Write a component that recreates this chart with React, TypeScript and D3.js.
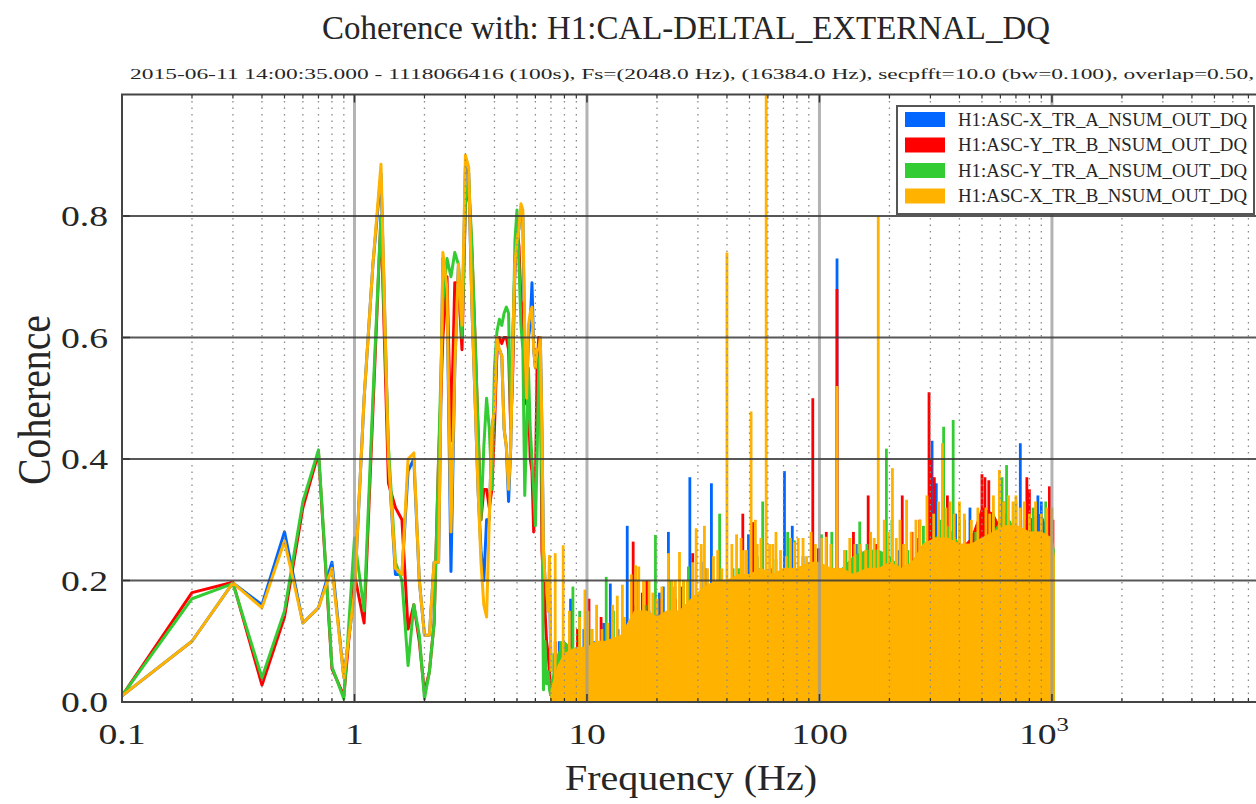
import React from 'react';
import * as d3 from 'd3';

// ---------------- DATA ----------------
const seriesNames = [
  'H1:ASC-X_TR_A_NSUM_OUT_DQ',
  'H1:ASC-Y_TR_B_NSUM_OUT_DQ',
  'H1:ASC-Y_TR_A_NSUM_OUT_DQ',
  'H1:ASC-X_TR_B_NSUM_OUT_DQ',
];
const seriesColors = ['#0066ff', '#ff0000', '#33cc33', '#ffb200'];

// low-frequency bins (bw = 0.1 Hz)
const lowFreqs = [
  0.1, 0.2, 0.3, 0.4, 0.5, 0.6, 0.7, 0.8, 0.9, 1.0,
  1.1, 1.2, 1.3, 1.4, 1.5, 1.6, 1.7, 1.8, 1.9, 2.0,
  2.1, 2.2, 2.3, 2.4, 2.5, 2.6, 2.7, 2.8, 2.9, 3.0,
  3.1, 3.2, 3.3, 3.4, 3.5, 3.6, 3.7, 3.8, 3.9, 4.0,
  4.1, 4.2, 4.3, 4.4, 4.5, 4.6, 4.7, 4.8, 4.9, 5.0,
  5.1, 5.2, 5.3, 5.4, 5.5, 5.6, 5.7, 5.8, 5.9, 6.0,
  6.1, 6.2, 6.3, 6.4, 6.5, 6.6, 6.7, 6.8, 6.9, 7.0,
];
const blueLow = [
  0.01, 0.10, 0.196, 0.16, 0.28, 0.13, 0.155, 0.23, 0.04, 0.18,
  0.5, 0.72, 0.87, 0.40, 0.21, 0.21, 0.38, 0.40, 0.2, 0.11,
  0.11, 0.23, 0.23, 0.73, 0.68, 0.215, 0.55, 0.72, 0.6, 0.88,
  0.87, 0.65, 0.5, 0.35, 0.25, 0.2, 0.3, 0.3, 0.45, 0.48,
  0.58, 0.58, 0.57, 0.45, 0.42, 0.33, 0.42, 0.6, 0.72, 0.76,
  0.78, 0.81, 0.8, 0.55, 0.5, 0.6, 0.62, 0.69, 0.58, 0.55,
  0.56, 0.58, 0.6, 0.45, 0.25, 0.2, 0.2, 0.15, 0.2, 0.05,
];
const redLow = [
  0.01, 0.18, 0.197, 0.028, 0.14, 0.32, 0.41, 0.055, 0.01, 0.21,
  0.13, 0.48, 0.80, 0.36, 0.32, 0.30, 0.12, 0.16, 0.10, 0.015,
  0.05, 0.13, 0.4, 0.6, 0.7, 0.43, 0.69, 0.69, 0.58, 0.82,
  0.85, 0.74, 0.6, 0.45, 0.3, 0.35, 0.35, 0.32, 0.35, 0.45,
  0.58, 0.6, 0.59, 0.6, 0.6, 0.58, 0.45, 0.55, 0.72, 0.78,
  0.75, 0.66, 0.65, 0.5, 0.49, 0.5, 0.4, 0.38, 0.28, 0.35,
  0.55, 0.6, 0.58, 0.25, 0.2, 0.15, 0.1, 0.08, 0.05, 0.01,
];
const greenLow = [
  0.01, 0.17, 0.195, 0.04, 0.15, 0.33, 0.415, 0.058, 0.005, 0.27,
  0.15, 0.5, 0.80, 0.42, 0.23, 0.2, 0.06, 0.16, 0.11, 0.005,
  0.05, 0.13, 0.40, 0.66, 0.73, 0.70, 0.74, 0.72, 0.6, 0.82,
  0.86, 0.75, 0.6, 0.45, 0.3, 0.42, 0.5, 0.45, 0.35, 0.55,
  0.61, 0.63, 0.62, 0.64, 0.65, 0.64, 0.45, 0.58, 0.76, 0.81,
  0.72, 0.62, 0.58, 0.34, 0.45, 0.55, 0.45, 0.40, 0.35, 0.29,
  0.4, 0.55, 0.58, 0.35, 0.02, 0.1, 0.03, 0.05, 0.02, 0.01,
];
const orangeLow = [
  0.01, 0.10, 0.196, 0.155, 0.265, 0.13, 0.155, 0.22, 0.04, 0.18,
  0.5, 0.72, 0.885, 0.40, 0.22, 0.21, 0.40, 0.41, 0.2, 0.11,
  0.11, 0.23, 0.23, 0.74, 0.68, 0.28, 0.55, 0.72, 0.62, 0.90,
  0.88, 0.65, 0.5, 0.35, 0.23, 0.16, 0.14, 0.30, 0.45, 0.48,
  0.6, 0.58, 0.57, 0.45, 0.42, 0.35, 0.42, 0.6, 0.72, 0.76,
  0.78, 0.82, 0.81, 0.6, 0.5, 0.62, 0.64, 0.65, 0.58, 0.55,
  0.58, 0.58, 0.6, 0.45, 0.25, 0.2, 0.2, 0.15, 0.24, 0.05,
];

// dense region (7 Hz .. 1024 Hz): solid band envelope
const denseFreqs = [
  7, 7.5, 8, 9, 10, 11, 12, 14, 16, 18, 20, 22, 25, 28, 32, 36, 40, 45, 50, 56,
  63, 70, 80, 90, 100, 112, 125, 140, 160, 180, 200, 225, 250, 280, 315, 355, 400, 450, 500, 560,
  630, 710, 800, 900, 1000, 1024,
];
const blueBand = [
  0.01, 0.04, 0.05, 0.06, 0.06, 0.07, 0.07, 0.08, 0.11, 0.12, 0.12, 0.12, 0.13, 0.15, 0.17, 0.17, 0.18, 0.18, 0.19, 0.19,
  0.19, 0.2, 0.2, 0.21, 0.21, 0.2, 0.2, 0.19, 0.2, 0.2, 0.21, 0.2, 0.21, 0.24, 0.25, 0.25, 0.24, 0.24, 0.25, 0.26,
  0.27, 0.27, 0.3, 0.31, 0.26, 0.22,
];
const redBand = [
  0.01, 0.04, 0.05, 0.06, 0.06, 0.07, 0.07, 0.08, 0.11, 0.12, 0.12, 0.12, 0.13, 0.15, 0.17, 0.17, 0.18, 0.18, 0.19, 0.19,
  0.19, 0.2, 0.2, 0.21, 0.21, 0.2, 0.2, 0.19, 0.2, 0.2, 0.21, 0.2, 0.21, 0.25, 0.26, 0.26, 0.25, 0.27, 0.32, 0.31,
  0.27, 0.27, 0.27, 0.26, 0.27, 0.24,
];
const greenBand = [
  0.03, 0.08, 0.1, 0.08, 0.07, 0.08, 0.09, 0.1, 0.12, 0.13, 0.13, 0.13, 0.14, 0.16, 0.18, 0.18, 0.19, 0.19, 0.2, 0.2,
  0.2, 0.21, 0.21, 0.22, 0.22, 0.21, 0.22, 0.24, 0.25, 0.25, 0.24, 0.22, 0.23, 0.26, 0.27, 0.29, 0.26, 0.25, 0.26, 0.28,
  0.31, 0.28, 0.27, 0.27, 0.27, 0.25,
];
const orangeBand = [
  0.02, 0.06, 0.08, 0.09, 0.09, 0.1, 0.1, 0.11, 0.15, 0.15, 0.14, 0.15, 0.15, 0.17, 0.19, 0.2, 0.2, 0.21, 0.21, 0.22,
  0.21, 0.22, 0.22, 0.23, 0.23, 0.22, 0.22, 0.21, 0.22, 0.22, 0.23, 0.22, 0.23, 0.26, 0.27, 0.27, 0.26, 0.26, 0.27, 0.28,
  0.29, 0.29, 0.28, 0.28, 0.27, 0.24,
];

// narrow peaks [frequency Hz, coherence]
const blueSpikes: [number, number][] = [
  [7.6, 0.1], [8.5, 0.17], [9.7, 0.12], [10.8, 0.1], [11.8, 0.13], [12.6, 0.195], [13.6, 0.12], [14.9, 0.29],
  [16.2, 0.16], [18.5, 0.15], [20.5, 0.18], [21.3, 0.19], [22.4, 0.28], [23.9, 0.19], [25.5, 0.19], [27.7, 0.37],
  [31, 0.231], [32.4, 0.22], [34.3, 0.36], [35.5, 0.19], [42, 0.2], [49.5, 0.276], [55.5, 0.22], [66, 0.21],
  [70.7, 0.38], [76.4, 0.29], [85, 0.24], [98, 0.22], [119, 0.73], [128, 0.24], [144, 0.26], [170, 0.24],
  [220, 0.25], [262, 0.27], [305, 0.43], [318, 0.36], [385, 0.31], [444, 0.32], [520, 0.3], [620, 0.33],
  [731, 0.426], [760, 0.3], [870, 0.34], [900, 0.33], [960, 0.31],
];
const redSpikes: [number, number][] = [
  [7.3, 0.1], [8.2, 0.09], [9.1, 0.12], [10.2, 0.17], [11.5, 0.14], [13, 0.1], [15.8, 0.264], [17.3, 0.18],
  [18.1, 0.2], [19, 0.14], [21, 0.17], [24, 0.17], [28.5, 0.245], [33, 0.16], [38, 0.2], [46.8, 0.31],
  [52, 0.296], [62, 0.22], [67, 0.2], [78, 0.23], [93.6, 0.5], [99, 0.253], [107, 0.28], [119, 0.68],
  [140, 0.28], [150, 0.25], [162, 0.34], [175, 0.26], [195, 0.27], [227, 0.34], [250, 0.28], [270, 0.3],
  [296, 0.51], [302, 0.4], [312, 0.37], [355, 0.34], [420, 0.3], [500, 0.375], [515, 0.37], [535, 0.365],
  [600, 0.3], [780, 0.37], [800, 0.35], [975, 0.355], [1010, 0.3],
];
const greenSpikes: [number, number][] = [
  [7.2, 0.08], [7.7, 0.1], [8.7, 0.19], [9.3, 0.15], [10.5, 0.12], [12.1, 0.206], [13, 0.15], [14.3, 0.12],
  [16.5, 0.2], [17.8, 0.16], [19.7, 0.275], [23, 0.2], [26, 0.2], [27.3, 0.223], [30, 0.18], [37.2, 0.31],
  [42.5, 0.22], [45, 0.22], [54, 0.24], [57, 0.33], [65, 0.235], [73, 0.28], [78, 0.266], [88, 0.22],
  [102, 0.276], [113, 0.28], [130, 0.25], [149, 0.297], [160, 0.26], [194, 0.417], [205, 0.3], [240, 0.25],
  [280, 0.29], [330, 0.3], [342, 0.453], [376, 0.464], [400, 0.3], [470, 0.28], [560, 0.31], [610, 0.37],
  [638, 0.39], [700, 0.33], [830, 0.32], [940, 0.33], [1000, 0.3],
];
const orangeSpikes: [number, number][] = [
  [7.3, 0.245], [7.9, 0.258], [8.4, 0.15], [9.3, 0.14], [9.8, 0.185], [10.1, 0.15], [10.5, 0.12], [11, 0.16],
  [11.6, 0.12], [12.3, 0.13], [12.9, 0.16], [13.5, 0.175], [14.2, 0.193], [14.5, 0.14], [15.5, 0.21], [16.2, 0.225],
  [16.7, 0.223], [17.5, 0.2], [18.5, 0.2], [19.2, 0.18], [20, 0.17], [21, 0.19], [22.4, 0.245], [23.2, 0.2],
  [24, 0.2], [25, 0.247], [26, 0.2], [27, 0.2], [28.5, 0.23], [29.5, 0.286], [31, 0.26], [32, 0.29],
  [33, 0.22], [35, 0.24], [36.5, 0.25], [38, 0.22], [40, 0.74], [42, 0.26], [44, 0.276], [46, 0.27],
  [47, 0.25], [48.5, 0.25], [50.8, 0.478], [53, 0.3], [54, 0.26], [56, 0.27], [59, 1.05], [61, 0.26],
  [63, 0.26], [65, 0.28], [68, 0.25], [72, 0.24], [75, 0.27], [78, 0.263], [81, 0.27], [85, 0.27],
  [88, 0.24], [92, 0.28], [96, 0.26], [102, 0.27], [107, 0.272], [112, 0.26], [119, 0.52], [128, 0.25],
  [135, 0.27], [142, 0.26], [150, 0.26], [158, 0.25], [166, 0.28], [172, 0.27], [179, 0.8], [190, 0.3],
  [198, 0.28], [206, 0.385], [214, 0.27], [222, 0.3], [230, 0.26], [237, 0.333], [248, 0.28], [260, 0.3],
  [270, 0.3], [290, 0.34], [310, 0.31], [325, 0.33], [338, 0.426], [350, 0.32], [365, 0.33], [380, 0.31],
  [400, 0.33], [420, 0.31], [450, 0.3], [480, 0.32], [520, 0.32], [540, 0.31], [560, 0.34], [594, 0.382],
  [620, 0.33], [650, 0.34], [680, 0.33], [700, 0.34], [730, 0.32], [760, 0.33], [800, 0.31], [850, 0.33],
  [900, 0.31], [950, 0.32], [1000, 0.32],
];

const yTickValues = [0.0, 0.2, 0.4, 0.6, 0.8];
const yTickLabels = ['0.0', '0.2', '0.4', '0.6', '0.8'];
const xTickValues = [0.1, 1, 10, 100, 1000];
const xTickLabels = ['0.1', '1', '10', '100', '10^3'];

const titleText = 'Coherence with: H1:CAL-DELTAL_EXTERNAL_DQ';
const subtitleText =
  '2015-06-11 14:00:35.000 - 1118066416 (100s), Fs=(2048.0 Hz), (16384.0 Hz), secpfft=10.0 (bw=0.100), overlap=0.50,';
const xLabel = 'Frequency (Hz)';
const yLabel = 'Coherence';

// ---------------- CHART ----------------
const FONT = '"Liberation Serif", "DejaVu Serif", serif';
const TXT = '#262626';

export default function App() {
  const left = 122;
  const right = 1264.3;
  const top = 94.5;
  const bottom = 702;
  const x = d3.scaleLog().domain([0.1, 8192]).range([left, right]);
  const y = d3.scaleLinear().domain([0, 1]).range([bottom, top]);

  const series = [
    { low: blueLow, band: blueBand, spikes: blueSpikes },
    { low: redLow, band: redBand, spikes: redSpikes },
    { low: greenLow, band: greenBand, spikes: greenSpikes },
    { low: orangeLow, band: orangeBand, spikes: orangeSpikes },
  ];

  const line = d3
    .line<number>()
    .x((_, i) => x(lowFreqs[i]))
    .y((v) => y(v));
  const area = d3
    .area<number>()
    .x((_, i) => x(denseFreqs[i]))
    .y0(y(0))
    .y1((v) => y(v));

  const minor: number[] = [];
  for (let e = -1; e <= 3; e++) {
    for (let k = 2; k <= 9; k++) {
      const f = k * Math.pow(10, e);
      if (f < 8192) minor.push(f);
    }
  }

  const sx = 1.3;

  return (
    <svg
      width={1256}
      height={804}
      style={{ position: 'absolute', left: 0, top: 0, background: '#fff' }}
      fontFamily={FONT}
    >
      <defs>
        <clipPath id="plotclip">
          <rect x={left} y={top} width={right - left} height={bottom - top} />
        </clipPath>
      </defs>
      <rect x={0} y={0} width={1256} height={804} fill="#fff" />

      {/* title */}
      <text x={686} y={39} fontSize={33} fill={TXT} textAnchor="middle" textLength={728} lengthAdjust="spacingAndGlyphs">
        {titleText}
      </text>
      <text x={130} y={79} fontSize={15} fill={TXT} textLength={1124} lengthAdjust="spacingAndGlyphs">
        {subtitleText}
      </text>

      {/* data */}
      <g clipPath="url(#plotclip)">
        {series.map((s, si) => (
          <g key={si}>
            <path d={area(s.band) || ''} fill={seriesColors[si]} stroke={seriesColors[si]} strokeWidth={1} />
            {s.spikes.map(([f, v], i) => (
              <line
                key={i}
                x1={x(f)}
                x2={x(f)}
                y1={y(0)}
                y2={y(v)}
                stroke={seriesColors[si]}
                strokeWidth={2.8}
              />
            ))}
            <path
              d={line(s.low) || ''}
              fill="none"
              stroke={seriesColors[si]}
              strokeWidth={3}
              strokeLinejoin="round"
            />
          </g>
        ))}
      </g>

      {/* grid (drawn above the data) */}
      <g clipPath="url(#plotclip)">
        {minor.map((f) => (
          <line
            key={'m' + f}
            x1={x(f)}
            x2={x(f)}
            y1={top}
            y2={bottom}
            stroke="#8a8a8a"
            strokeWidth={1.3}
            strokeDasharray="1.5,5"
          />
        ))}
        {xTickValues.slice(1).map((f) => (
          <line key={'M' + f} x1={x(f)} x2={x(f)} y1={top} y2={bottom} stroke="#9a9a9a" strokeOpacity={0.75} strokeWidth={3} />
        ))}
        {yTickValues.slice(1).map((v) => (
          <line key={'h' + v} x1={left} x2={right} y1={y(v)} y2={y(v)} stroke="#3a3a3a" strokeOpacity={0.85} strokeWidth={1.8} />
        ))}
        {minor.map((f) => (
          <g key={'t' + f}>
            <line x1={x(f)} x2={x(f)} y1={bottom} y2={bottom - 4} stroke="#333" strokeWidth={1.2} />
            <line x1={x(f)} x2={x(f)} y1={top} y2={top + 4} stroke="#333" strokeWidth={1.2} />
          </g>
        ))}
        {xTickValues.map((f) => (
          <g key={'T' + f}>
            <line x1={x(f)} x2={x(f)} y1={bottom} y2={bottom - 8} stroke="#333" strokeWidth={1.5} />
            <line x1={x(f)} x2={x(f)} y1={top} y2={top + 8} stroke="#333" strokeWidth={1.5} />
          </g>
        ))}
        {yTickValues.map((v) => (
          <line key={'yt' + v} x1={left} x2={left + 8} y1={y(v)} y2={y(v)} stroke="#333" strokeWidth={1.5} />
        ))}
      </g>

      {/* frame */}
      <rect x={left} y={top} width={right - left} height={bottom - top} fill="none" stroke="#444" strokeWidth={2} />

      {/* y tick labels */}
      {yTickValues.map((v, i) => (
        <text
          key={'yl' + v}
          transform={`translate(${108},${y(v) + 10}) scale(${sx},1)`}
          fontSize={29}
          fill={TXT}
          textAnchor="end"
        >
          {yTickLabels[i]}
        </text>
      ))}

      {/* x tick labels */}
      {xTickValues.map((f, i) => {
        const lab = xTickLabels[i];
        if (lab.includes('^')) {
          const [b, p] = lab.split('^');
          return (
            <text key={'xl' + f} transform={`translate(${x(f) - 8},${744}) scale(${sx},1)`} fontSize={29} fill={TXT} textAnchor="middle">
              {b}
              <tspan dy={-13} fontSize={19}>
                {p}
              </tspan>
            </text>
          );
        }
        return (
          <text key={'xl' + f} transform={`translate(${x(f)},${744}) scale(${sx},1)`} fontSize={29} fill={TXT} textAnchor="middle">
            {lab}
          </text>
        );
      })}

      {/* axis labels */}
      <text x={691} y={790} fontSize={36} fill={TXT} textAnchor="middle" textLength={252} lengthAdjust="spacingAndGlyphs">
        {xLabel}
      </text>
      <text
        transform={`translate(${50},${400}) rotate(-90) scale(1,${sx})`}
        fontSize={36}
        fill={TXT}
        textAnchor="middle"
        textLength={170}
        lengthAdjust="spacingAndGlyphs"
      >
        {yLabel}
      </text>

      {/* legend */}
      <g>
        <rect x={897} y={106} width={357} height={108} fill="#fff" stroke="#555" strokeWidth={2} />
        {seriesNames.map((n, i) => {
          const cy = 119.5 + i * 25.5;
          return (
            <g key={n}>
              <rect x={905} y={cy - 7.5} width={40} height={15} fill={seriesColors[i]} />
              <text x={958} y={cy + 6} fontSize={18} fill={TXT} textLength={289} lengthAdjust="spacingAndGlyphs">
                {n}
              </text>
            </g>
          );
        })}
      </g>
    </svg>
  );
}
